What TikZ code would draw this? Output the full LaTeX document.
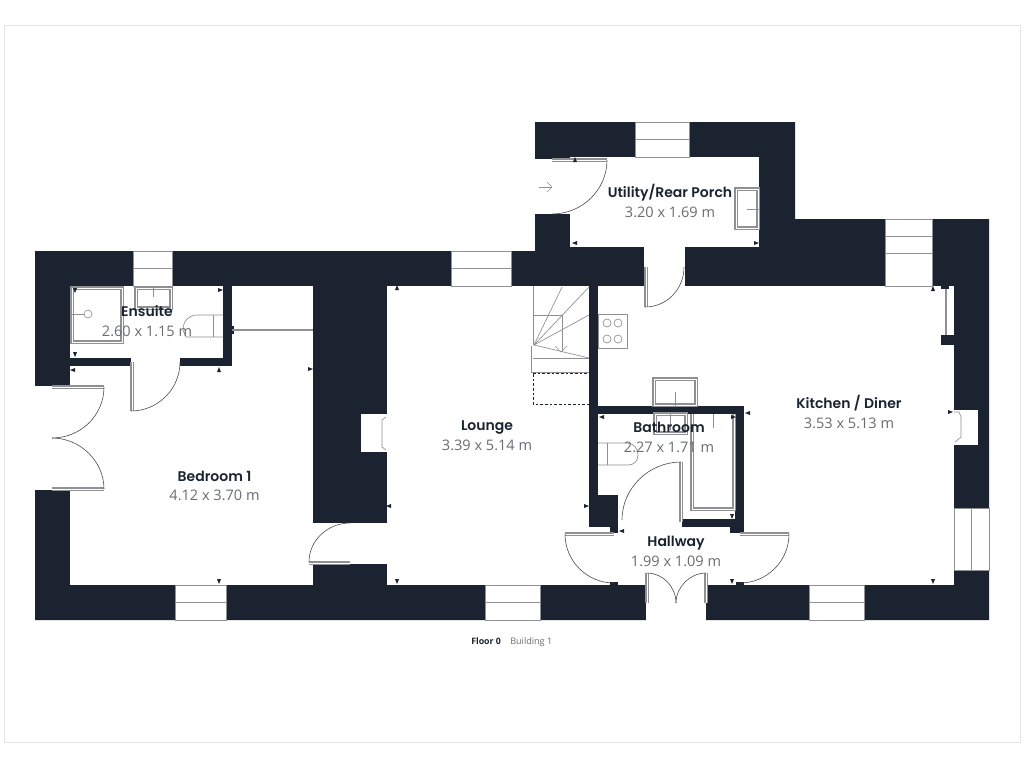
\documentclass[tikz,border=0pt]{standalone}
\usepackage{fontspec}
\setmainfont{Open Sans}
\newfontfamily\namefont{Poppins SemiBold}
\definecolor{wallcol}{HTML}{1B2230}
\definecolor{linecol}{HTML}{8E9094}
\definecolor{dimcol}{HTML}{6A6C70}
\tikzset{
	wall_f/.style = {fill=wallcol},
	room_f/.style = {fill=white},
	win_n/.style = {draw=linecol, fill=white, line width=0.7pt},
	line_n/.style = {draw=linecol, line width=0.5pt},
	swing_n/.style = {draw=black!70, line width=0.45pt},
	fit_n/.style = {draw=linecol, line width=1pt, double=white, double distance=0.7pt},
	name_n/.style = {inner sep=0pt, anchor=base, text=wallcol, font=\namefont\fontsize{10.5}{12}\selectfont},
	size_n/.style = {inner sep=0pt, anchor=base, text=dimcol, font=\fontsize{10.9}{12}\selectfont},
	foot_n/.style = {inner sep=0pt, anchor=base west, font=\fontsize{6.8}{8}\selectfont}
}
\newcommand{\dimtick}[3]{\fill[wallcol, shift={(#1,#2)}, rotate=-#3] (-2,-2) -- (3,0) -- (-2,2) -- cycle;}
\begin{document}
\begin{tikzpicture}[x=0.75pt,y=-0.75pt]
\useasboundingbox (0,0) rectangle (1024,768);
\fill[white] (0,0) rectangle (1024,768);
\draw[black!10, line width=0.5pt] (4,25) rectangle (1020,742);
\fill[wall_f] (35,251) -- (535,251) -- (535,122) -- (795,122) -- (795,219) -- (989,219) -- (989,620) -- (35,620) -- cycle;
\fill[room_f] (70,286) rectangle (223,358);
\fill[room_f] (131,358) rectangle (180,366);
\fill[room_f] (232,286) rectangle (313,366);
\fill[room_f] (70,366) rectangle (313,585);
\fill[room_f] (34,386) rectangle (70,490);
\fill[room_f] (313,523) rectangle (387,564);
\fill[room_f] (387,286) rectangle (954,585);
\fill[room_f] (644,247) rectangle (685,286);
\fill[room_f] (570,157) rectangle (759,247);
\fill[room_f] (534,159) rectangle (570,214);
\fill[room_f] (646,585) rectangle (706,621);
\fill[room_f] (361,414) rectangle (387,452);
\fill[room_f] (954,410) rectangle (978,445);
\fill[wall_f] (589,286) rectangle (598,527);
\fill[wall_f] (589,495) rectangle (618,527);
\fill[wall_f] (610,527) rectangle (618,533);
\fill[wall_f] (589,406) rectangle (744,414);
\fill[wall_f] (735,406) rectangle (744,533);
\fill[wall_f] (682,519) rectangle (735,527);
\fill[wall_f] (730,527) rectangle (744,533);
\fill[wall_f] (941,335) rectangle (955,345);
\fill[wall_f] (941,286) rectangle (949,289);
\fill[wall_f] (610,582) rectangle (618,585);
\fill[wall_f] (736,582) rectangle (744,585);
\fill[wall_f] (232,326) rectangle (234,334);
\draw[win_n] (133,251) rectangle (172,286);
\draw[line_n] (133,268) -- (172,268);
\draw[win_n] (451,251) rectangle (511,286);
\draw[line_n] (451,268) -- (511,268);
\draw[win_n] (635,122) rectangle (689,157);
\draw[line_n] (635,139) -- (689,139);
\draw[win_n] (885,219) rectangle (932,286);
\draw[line_n] (885,236) -- (932,236);
\draw[line_n] (885,253) -- (932,253);
\draw[win_n] (954,508) rectangle (989,570);
\draw[line_n] (971,508) -- (971,570);
\draw[win_n] (175,585) rectangle (226,620);
\draw[line_n] (175,602) -- (226,602);
\draw[win_n] (485,585) rectangle (540,620);
\draw[line_n] (485,602) -- (540,602);
\draw[win_n] (809,585) rectangle (864,620);
\draw[line_n] (809,602) -- (864,602);
\draw[fit_n] (72,288) rectangle (122,342);
\draw[line_n] (72,314) -- (84,314);
\draw[line_n] (88,314) circle (4);
\draw[fit_n] (136,288) rectangle (171,308);
\draw[line_n] (153,287) -- (153,297);
\draw[line_n] (223,315) -- (197,315) .. controls (189,315) and (183,321) .. (183,330) -- (186,337) -- (223,337);
\draw[line_n] (213,315) -- (213,337);
\draw[line_n, line width=1.5pt] (232,330) -- (313,330);
\draw[fit_n] (132,362) -- (132,411);
\draw[swing_n] (131,411) .. controls (158,411) and (180,389) .. (180,362);
\draw[fit_n] (52,387) -- (104,387);
\draw[swing_n] (104,387) .. controls (104,415.5) and (80.5,438) .. (52,438);
\draw[fit_n] (52,489) -- (104,489);
\draw[swing_n] (104,489) .. controls (104,461) and (80,438) .. (52,438);
\draw[fit_n] (309,563) -- (350,563);
\draw[swing_n] (309,562) .. controls (309,540) and (328,523) .. (350,523);
\draw[line_n] (386,417) -- (382,420) -- (382,447) -- (386,450);
\draw[fit_n] (552,160) -- (607,160);
\draw[swing_n] (607,160) .. controls (607,190) and (582,214) .. (552,214);
\draw[line_n] (539,187) -- (552,187);
\draw[line_n] (547,182) -- (552,187) -- (547,192);
\draw[fit_n] (736,189) rectangle (758,228);
\draw[line_n] (747,209) -- (759,209);
\draw[fit_n] (646,267) -- (646,307);
\draw[swing_n] (645,307) .. controls (667,307) and (684,289) .. (684,267);
\draw[line_n] (533,286) -- (533,345);
\draw[line_n] (533,315) -- (562,315) -- (562,352);
\draw[line_n] (534,345) -- (562,287);
\draw[line_n] (534,345) -- (589,287);
\draw[line_n] (534,345) -- (589,315);
\draw[line_n] (534,345) -- (589,358);
\draw[line_n] (533,358) -- (589,358);
\draw[line_n] (531,346) -- (531,372) -- (589,372);
\draw[line_n] (555,346) -- (561,352) -- (567,346);
\draw[draw=wallcol, line width=0.5pt, dash pattern=on 2pt off 1.5pt] (533,374) -- (533,404) -- (589,404);
\draw[draw=wallcol, line width=0.5pt, dash pattern=on 2pt off 1.5pt] (533,373.5) -- (589,373.5);
\draw[line_n] (598,314) rectangle (627,348);
\draw[line_n] (607,323) circle (4);
\draw[line_n] (618,323) circle (4);
\draw[line_n] (607,339) circle (4);
\draw[line_n] (618,339) circle (4);
\draw[fit_n] (654,379) rectangle (696,405);
\draw[line_n] (675,392) -- (675,406);
\draw[fit_n] (655,414) rectangle (686,433);
\draw[line_n] (670,414) -- (670,430);
\draw[fit_n] (692,414) -- (692,509) -- (734,509) -- (734,414);
\draw[line_n] (713,414) -- (713,428);
\draw[line_n] (598,443) -- (627,443) .. controls (634,443) and (638,449) .. (638,455) .. controls (638,461) and (634,465) .. (628,465) -- (598,465);
\draw[line_n] (607,443) -- (607,465);
\draw[fit_n] (681,462) -- (681,522);
\draw[swing_n] (622,520) .. controls (622,488) and (649,462) .. (681,462);
\draw[fit_n] (565,534) -- (614,534);
\draw[swing_n] (565,534) .. controls (565,561) and (587,583) .. (614,583);
\draw[fit_n] (740,534) -- (789,534);
\draw[swing_n] (789,534) .. controls (789,561) and (767,583) .. (740,583);
\draw[fit_n] (647,573) -- (647,603);
\draw[swing_n] (647,573) .. controls (663,573) and (676,587) .. (676,603);
\draw[fit_n] (706,573) -- (706,603);
\draw[swing_n] (706,573) .. controls (690,573) and (676,587) .. (676,603);
\draw[line_n, line width=1.5pt] (945.5,289) -- (945.5,335);
\draw[line_n] (954,412) -- (959,412) -- (961,417) -- (961,437) -- (955,442);
\dimtick{75}{290}{90}
\dimtick{220}{290}{0}
\dimtick{75}{354}{90}
\dimtick{73}{370}{180}
\dimtick{219}{370}{-90}
\dimtick{310}{369}{0}
\dimtick{219}{581}{90}
\dimtick{397}{581}{90}
\dimtick{389}{506}{180}
\dimtick{397}{288}{-90}
\dimtick{586}{506}{0}
\dimtick{622}{531}{180}
\dimtick{732}{516}{90}
\dimtick{732}{531}{0}
\dimtick{732}{581}{90}
\dimtick{575}{160}{-90}
\dimtick{575}{243}{180}
\dimtick{756}{243}{0}
\dimtick{602}{417}{180}
\dimtick{733}{417}{0}
\dimtick{748}{413}{180}
\dimtick{933}{289}{-90}
\dimtick{950}{412}{0}
\dimtick{933}{581}{90}
\node [name_n] (ensuite) at (147,316) {Ensuite};
\node [size_n] (ensuite_s) at (147,336) {2.60 x 1.15 m};
\node [name_n] (utility) at (670,197) {Utility/Rear Porch};
\node [size_n] (utility_s) at (670,217) {3.20 x 1.69 m};
\node [name_n] (lounge) at (487,430) {Lounge};
\node [size_n] (lounge_s) at (487,450) {3.39 x 5.14 m};
\node [name_n] (bedroom) at (214.5,481) {Bedroom 1};
\node [size_n] (bedroom_s) at (214.5,500) {4.12 x 3.70 m};
\node [name_n] (kitchen) at (849,408) {Kitchen / Diner};
\node [size_n] (kitchen_s) at (849,428) {3.53 x 5.13 m};
\node [name_n] (bathroom) at (669,432) {Bathroom};
\node [size_n] (bathroom_s) at (669,452) {2.27 x 1.71 m};
\node [name_n] (hallway) at (676,546) {Hallway};
\node [size_n] (hallway_s) at (676,566) {1.99 x 1.09 m};
\node [foot_n, text=wallcol, font=\fontsize{6.6}{8}\selectfont\bfseries] (floor) at (471,644) {Floor 0};
\node [foot_n, text=dimcol] (building) at (510,644) {Building 1};
\end{tikzpicture}
\end{document}
